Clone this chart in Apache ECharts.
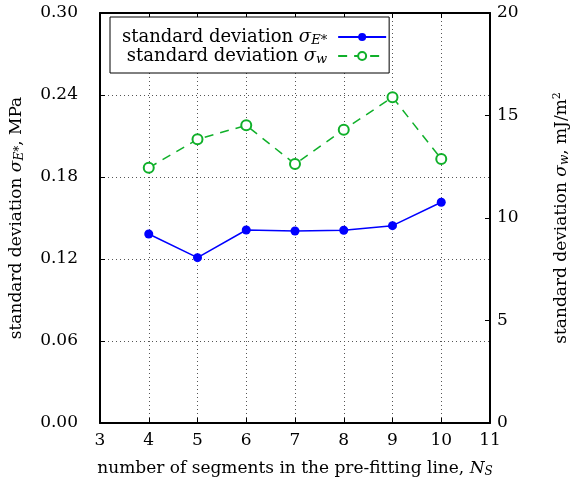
<!DOCTYPE html>
<html>
<head>
<meta charset="utf-8">
<script src="https://cdn.jsdelivr.net/npm/echarts@6/dist/echarts.min.js"></script>
<style>
  html, body { margin: 0; padding: 0; background: #fff; }
  #main { width: 573px; height: 487px; }
</style>
</head>
<body>
<div id="main"></div>
<script>
// number of segments N_S
var segments = [4, 5, 6, 7, 8, 9, 10];
// standard deviation sigma_E*, MPa (left axis)
var sigmaE = [0.1383, 0.1210, 0.1412, 0.1405, 0.1410, 0.1444, 0.1615];
// standard deviation sigma_w, mJ/m^2 (right axis)
var sigmaW = [12.45, 13.84, 14.52, 12.63, 14.31, 15.89, 12.88];

var xTicks = { min: 3, max: 11, interval: 1 };
var leftTicks = { min: 0, max: 0.30, interval: 0.06 };
var rightTicks = { min: 0, max: 20, interval: 5 };

var font = "'DejaVu Serif', 'Liberation Serif', serif";
var fs = 17;
var blue = "#0000ff";
var green = "#10b02a";

var richText = {
  t: { fontFamily: font, fontSize: fs, color: "#000", align: "right" },
  i: { fontFamily: font, fontSize: fs, fontStyle: "italic", color: "#000", align: "right" },
  sub: { fontFamily: font, fontSize: 12, fontStyle: "italic", color: "#000", verticalAlign: "bottom", padding: [7, 0, 0, 0], align: "right" },
  sup: { fontFamily: font, fontSize: 11, color: "#000", verticalAlign: "top", padding: [0, 0, 7, 0], align: "right" }
};
// legend text is a bit larger, with some room before the line sample
var legendRich = {
  t: Object.assign({}, richText.t, { fontSize: 18 }),
  i: Object.assign({}, richText.i, { fontSize: 18 }),
  sub: Object.assign({}, richText.sub, { fontSize: 13, padding: [7, 6, 0, 0] })
};

function pairs(ys) {
  return segments.map(function (x, k) { return [x, ys[k]]; });
}

var myChart = echarts.init(document.getElementById("main"));

var chart_option = {
  animation: false,
  textStyle: { fontFamily: font },
  grid: { left: 100, right: 83, top: 13, bottom: 64, show: false, outerBoundsMode: "none", containLabel: false },
  legend: {
    left: 110,
    top: 17,
    orient: "vertical",
    align: "right",
    itemWidth: 48,
    itemHeight: 10,
    itemGap: 0,
    padding: [11, 2, 7, 12],
    borderColor: "#000",
    borderWidth: 1,
    backgroundColor: "#fff",
    textStyle: { fontFamily: font, fontSize: 18, color: "#000", rich: legendRich },
    formatter: function (name) {
      if (name === "E") return "{t|standard deviation }{i|σ}{sub|E*}";
      return "{t|standard deviation }{i|σ}{sub|w}";
    },
    data: ["E", "W"]
  },
  xAxis: [
    {
      type: "value",
      min: xTicks.min,
      max: xTicks.max,
      interval: xTicks.interval,
      position: "bottom",
      name: "number of segments in the pre-fitting line, {i|N}{sub|S}",
      nameLocation: "middle",
      nameGap: 36,
      nameTextStyle: { fontFamily: font, fontSize: fs, color: "#000", rich: richText },
      axisLine: { show: true, onZero: false, lineStyle: { color: "#000", width: 2 } },
      axisTick: { inside: true, length: 5, lineStyle: { color: "#000" } },
      axisLabel: { margin: 9, fontFamily: font, fontSize: fs, color: "#000" },
      splitLine: { show: true, lineStyle: { color: "#555", type: [1, 3], width: 1 } }
    },
    {
      type: "value",
      min: xTicks.min,
      max: xTicks.max,
      interval: xTicks.interval,
      position: "top",
      axisLine: { show: true, onZero: false, lineStyle: { color: "#000", width: 2 } },
      axisTick: { inside: true, length: 5, lineStyle: { color: "#000" } },
      axisLabel: { show: false },
      splitLine: { show: false }
    }
  ],
  yAxis: [
    {
      type: "value",
      min: leftTicks.min,
      max: leftTicks.max,
      interval: leftTicks.interval,
      position: "left",
      name: "standard deviation {i|σ}{sub|E*}, MPa",
      nameLocation: "middle",
      nameRotate: 90,
      nameGap: 74,
      nameTextStyle: { fontFamily: font, fontSize: fs, color: "#000", rich: richText },
      axisLine: { show: true, onZero: false, lineStyle: { color: "#000", width: 2 } },
      axisTick: { inside: true, length: 5, lineStyle: { color: "#000" } },
      axisLabel: {
        margin: 22, fontFamily: font, fontSize: fs, color: "#000",
        formatter: function (v) { return v.toFixed(2); }
      },
      splitLine: { show: true, lineStyle: { color: "#555", type: [1, 3], width: 1 } }
    },
    {
      type: "value",
      min: rightTicks.min,
      max: rightTicks.max,
      interval: rightTicks.interval,
      position: "right",
      name: "standard deviation {i|σ}{sub|w}, mJ/m{sup|2}",
      nameLocation: "middle",
      nameRotate: 90,
      nameGap: 62,
      nameTextStyle: { fontFamily: font, fontSize: fs, color: "#000", rich: richText },
      axisLine: { show: true, onZero: false, lineStyle: { color: "#000", width: 2 } },
      axisTick: { inside: true, length: 5, lineStyle: { color: "#000" } },
      axisLabel: { margin: 7, fontFamily: font, fontSize: fs, color: "#000" },
      splitLine: { show: false }
    }
  ],
  series: [
    {
      name: "E",
      type: "line",
      xAxisIndex: 0,
      yAxisIndex: 0,
      data: pairs(sigmaE),
      symbol: "circle",
      symbolSize: 9,
      itemStyle: { color: blue },
      lineStyle: { color: blue, width: 1.5 },
      z: 3
    },
    {
      name: "W",
      type: "line",
      xAxisIndex: 0,
      yAxisIndex: 1,
      data: pairs(sigmaW),
      symbol: "emptyCircle",
      symbolSize: 10,
      itemStyle: { color: green, borderColor: green, borderWidth: 1.5 },
      lineStyle: { color: green, width: 1.5, type: [9, 7] },
      z: 3
    }
  ]
};

myChart.setOption(chart_option);
</script>
</body>
</html>
